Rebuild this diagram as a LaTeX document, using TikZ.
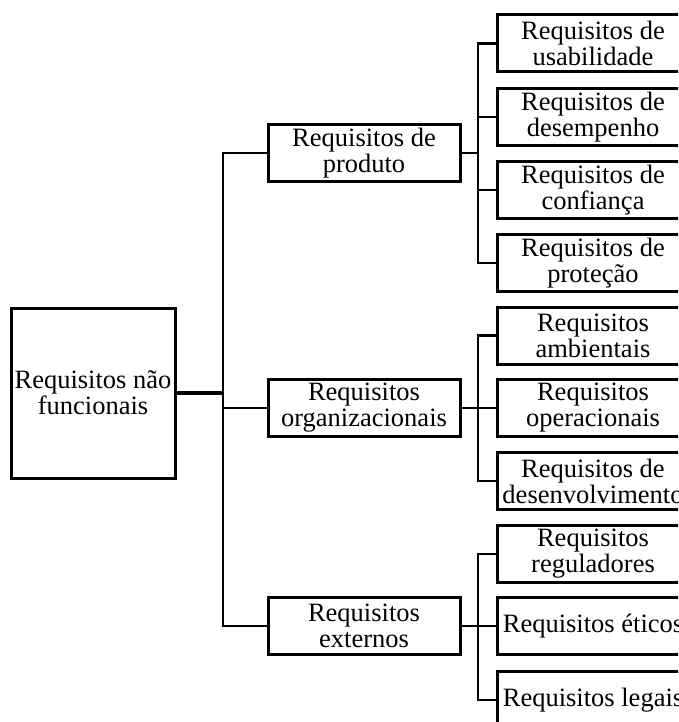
\documentclass[tikz,border=0pt]{standalone}
\usepackage{fontspec}
\setmainfont{Liberation Serif}
\tikzset{
    reqbox/.style={draw, line width=3pt, align=center, inner sep=0pt,
        minimum width=192pt, minimum height=57pt,
        font=\fontsize{26.5pt}{26pt}\selectfont},
    rootbox/.style={reqbox, minimum width=164pt, minimum height=170pt},
    link/.style={line width=2.4pt}
}
\begin{document}
\begin{tikzpicture}[x=1pt, y=-1pt]
        \useasboundingbox (0,0) rectangle (678,722);
        \clip (0,0) rectangle (678,722);

        % raiz
        \node[rootbox] (root) at (93,393) {Requisitos não\\funcionais};

        % segundo nivel
        \node[reqbox] (prod) at (364,153) {Requisitos de\\produto};
        \node[reqbox] (org) at (364,408) {Requisitos\\organizacionais};
        \node[reqbox] (ext) at (364,626) {Requisitos\\externos};

        % terceiro nivel
        \node[reqbox] (usab) at (593,43.5) {Requisitos de\\usabilidade};
        \node[reqbox] (desemp) at (593,117) {Requisitos de\\desempenho};
        \node[reqbox] (conf) at (593,190) {Requisitos de\\confiança};
        \node[reqbox] (prot) at (593,263) {Requisitos de\\proteção};
        \node[reqbox] (amb) at (593,335.5) {Requisitos\\ambientais};
        \node[reqbox] (oper) at (593,408) {Requisitos\\operacionais};
        \node[reqbox] (desenv) at (593,481) {Requisitos de\\desenvolvimento};
        \node[reqbox] (regul) at (593,554) {Requisitos\\reguladores};
        \node[reqbox] (eticos) at (593,626) {Requisitos éticos};
        \node[reqbox] (legais) at (593,700) {Requisitos legais};

        % ligacoes
        \coordinate (t0) at (223,0);
        \coordinate (t1) at (478,0);
        \draw[line width=3.2pt] (root.east) -- (root.east -| t0);
        \draw[link] (prod.west) -- (prod.west -| t0) -- (ext.west -| t0) -- (ext.west);
        \draw[link] (org.west) -- (org.west -| t0);

        \draw[link] (prod.east) -- (prod.east -| t1);
        \draw[link] (usab.west) -- (usab.west -| t1) -- (prot.west -| t1) -- (prot.west);
        \draw[link] (desemp.west) -- (desemp.west -| t1);
        \draw[link] (conf.west) -- (conf.west -| t1);

        \draw[link] (org.east) -- (org.east -| t1);
        \draw[link] (amb.west) -- (amb.west -| t1) -- (desenv.west -| t1) -- (desenv.west);
        \draw[link] (oper.west) -- (oper.west -| t1);

        \draw[link] (ext.east) -- (ext.east -| t1);
        \draw[link] (regul.west) -- (regul.west -| t1) -- (legais.west -| t1) -- (legais.west);
        \draw[link] (eticos.west) -- (eticos.west -| t1);
    \end{tikzpicture}
\end{document}
